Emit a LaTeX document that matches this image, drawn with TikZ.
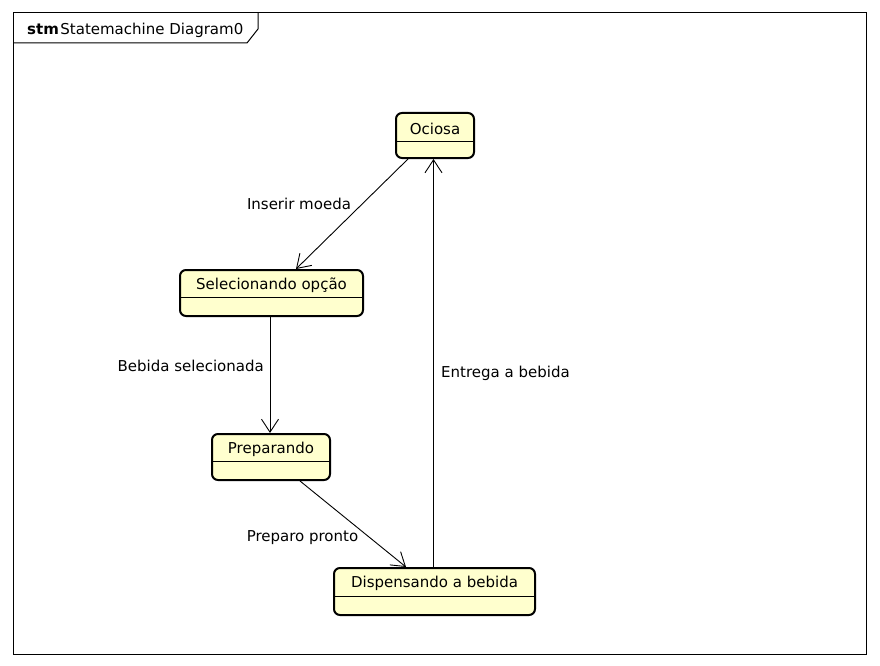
\documentclass[tikz,border=0pt]{standalone}
\usepackage{fontspec}
\setmainfont{DejaVu Sans}
\usetikzlibrary{arrows.meta}
\definecolor{stfill}{RGB}{255,255,206}
\tikzset{
  stbox/.style={draw=black, line width=2pt, rounded corners=6pt, fill=stfill, inner sep=0pt},
  sttext/.style={inner sep=0pt, font=\fontsize{15}{17}\selectfont, anchor=center},
  lbl/.style={inner sep=0pt, font=\fontsize{15}{17}\selectfont},
  divline/.style={line width=0.9pt},
  trans/.style={line width=0.9pt, -{Straight Barb[length=13pt, width=17pt, line width=0.9pt]}},
}
\begin{document}
\begin{tikzpicture}[x=1pt, y=-1pt]
\useasboundingbox (0,0) rectangle (880,666);
\fill[white] (0,0) rectangle (880,666);
% frame
\draw[line width=1pt] (13,13) rectangle (866,654);
\draw[line width=1pt] (13,43) -- (247,43) -- (258,29) -- (258,13);
\node[lbl, anchor=west] (title) at (27,30) {\textbf{stm}\kern1.5pt Statemachine Diagram0};

% states
\node[stbox, minimum width=78pt, minimum height=45pt] (ociosa) at (435,135.5) {};
\node[sttext] (ociosaT) at ([yshift=-16.5pt]ociosa.north) {Ociosa};
\draw[divline] ([yshift=-29pt]ociosa.north west) -- ([yshift=-29pt]ociosa.north east);

\node[stbox, minimum width=183pt, minimum height=46pt] (sel) at (271.5,293) {};
\node[sttext] (selT) at ([yshift=-16.5pt]sel.north) {Selecionando opção};
\draw[divline] ([yshift=-28.5pt]sel.north west) -- ([yshift=-28.5pt]sel.north east);

\node[stbox, minimum width=118pt, minimum height=46pt] (prep) at (271,457) {};
\node[sttext] (prepT) at ([yshift=-16.5pt]prep.north) {Preparando};
\draw[divline] ([yshift=-28.5pt]prep.north west) -- ([yshift=-28.5pt]prep.north east);

\node[stbox, minimum width=201pt, minimum height=47pt] (disp) at (434.5,591.5) {};
\node[sttext] (dispT) at ([yshift=-16.5pt]disp.north) {Dispensando a bebida};
\draw[divline] ([yshift=-29pt]disp.north west) -- ([yshift=-29pt]disp.north east);

% transitions
\draw[trans] ([xshift=-27pt]ociosa.south) -- ([xshift=24.5pt]sel.north);
\draw[trans] ([xshift=-1.5pt]sel.south) -- ([xshift=-1pt]prep.north);
\draw[trans] ([xshift=29pt]prep.south) -- ([xshift=-28.5pt]disp.north);
\draw[trans] ([xshift=-1pt]disp.north) -- ([xshift=-1.5pt]ociosa.south);

% labels
\node[lbl] (l1) at (299,204) {Inserir moeda};
\node[lbl, anchor=east] (l2) at (264,366) {Bebida selecionada};
\node[lbl] (l3) at (302.5,538) {Preparo pronto};
\node[lbl, anchor=west] (l4) at (441,373) {Entrega a bebida};
\end{tikzpicture}
\end{document}
